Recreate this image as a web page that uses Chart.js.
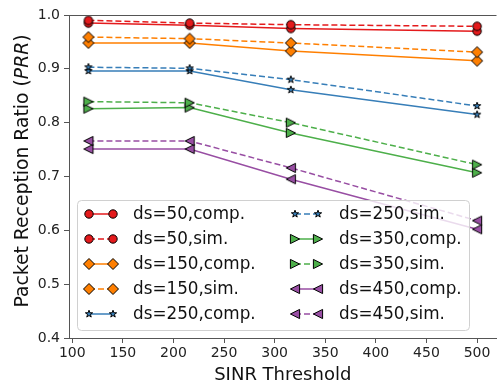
<!DOCTYPE html>
<html>
<head>
<meta charset="utf-8">
<script src="https://cdn.jsdelivr.net/npm/chart.js@4.4.0/dist/chart.umd.min.js"></script>
<style>
  html, body { margin: 0; padding: 0; background: #fff; }
  #wrap { width: 503px; height: 385px; }
</style>
</head>
<body>
<div id="wrap"><canvas id="prrChart" width="503" height="385"></canvas></div>
<script>
// datos
var sinrThreshold = [116, 216, 316, 500];
var prrDs50Comp  = [0.985, 0.981, 0.975, 0.970];
var prrDs50Sim   = [0.990, 0.985, 0.982, 0.979];
var prrDs150Comp = [0.948, 0.948, 0.933, 0.915];
var prrDs150Sim  = [0.959, 0.956, 0.948, 0.931];
var prrDs250Comp = [0.896, 0.896, 0.861, 0.815];
var prrDs250Sim  = [0.903, 0.901, 0.880, 0.831];
var prrDs350Comp = [0.826, 0.828, 0.781, 0.707];
var prrDs350Sim  = [0.839, 0.837, 0.800, 0.722];
var prrDs450Comp = [0.751, 0.751, 0.695, 0.602];
var prrDs450Sim  = [0.766, 0.766, 0.716, 0.618];
var xTickValues = [100, 150, 200, 250, 300, 350, 400, 450, 500];
var yTickValues = [0.4, 0.5, 0.6, 0.7, 0.8, 0.9, 1.0];

var FONT = "'DejaVu Sans', sans-serif";

// dibuja un marcador estilo matplotlib (relleno + borde negro)
function drawMarker(ctx, kind, x, y, color) {
    ctx.save();
    ctx.beginPath();
    if (kind === 'circle') {
        ctx.arc(x, y, 4.2, 0, Math.PI * 2);
    } else if (kind === 'diamond') {
        ctx.moveTo(x, y - 5.5);
        ctx.lineTo(x + 5.5, y);
        ctx.lineTo(x, y + 5.5);
        ctx.lineTo(x - 5.5, y);
        ctx.closePath();
    } else if (kind === 'star') {
        for (var i = 0; i < 10; i++) {
            var r = (i % 2 === 0) ? 3.8 : 1.5;
            var a = -Math.PI / 2 + i * Math.PI / 5;
            var px = x + r * Math.cos(a), py = y + r * Math.sin(a);
            if (i === 0) ctx.moveTo(px, py); else ctx.lineTo(px, py);
        }
        ctx.closePath();
    } else if (kind === 'triRight') {
        ctx.moveTo(x + 4.6, y);
        ctx.lineTo(x - 4.6, y - 4.6);
        ctx.lineTo(x - 4.6, y + 4.6);
        ctx.closePath();
    } else if (kind === 'triLeft') {
        ctx.moveTo(x - 4.6, y);
        ctx.lineTo(x + 4.6, y - 4.6);
        ctx.lineTo(x + 4.6, y + 4.6);
        ctx.closePath();
    }
    ctx.fillStyle = color;
    ctx.fill();
    ctx.lineWidth = 1;
    ctx.strokeStyle = '#000';
    ctx.stroke();
    ctx.restore();
}

function markerImage(kind, color) {
    var c = document.createElement('canvas');
    c.width = 16;
    c.height = 16;
    drawMarker(c.getContext('2d'), kind, 8, 8, color);
    return c;
}

var series = [
    { label: 'ds=50,comp.',  values: prrDs50Comp,  color: '#e41a1c', marker: 'circle',   dash: [] },
    { label: 'ds=50,sim.',   values: prrDs50Sim,   color: '#e41a1c', marker: 'circle',   dash: [6, 3] },
    { label: 'ds=150,comp.', values: prrDs150Comp, color: '#ff7f00', marker: 'diamond',  dash: [] },
    { label: 'ds=150,sim.',  values: prrDs150Sim,  color: '#ff7f00', marker: 'diamond',  dash: [6, 3] },
    { label: 'ds=250,comp.', values: prrDs250Comp, color: '#377eb8', marker: 'star',     dash: [] },
    { label: 'ds=250,sim.',  values: prrDs250Sim,  color: '#377eb8', marker: 'star',     dash: [6, 3] },
    { label: 'ds=350,comp.', values: prrDs350Comp, color: '#4daf4a', marker: 'triRight', dash: [] },
    { label: 'ds=350,sim.',  values: prrDs350Sim,  color: '#4daf4a', marker: 'triRight', dash: [6, 3] },
    { label: 'ds=450,comp.', values: prrDs450Comp, color: '#984ea3', marker: 'triLeft',  dash: [] },
    { label: 'ds=450,sim.',  values: prrDs450Sim,  color: '#984ea3', marker: 'triLeft',  dash: [6, 3] }
];

var datasets = series.map(function (s, i) {
    return {
        label: s.label,
        data: sinrThreshold.map(function (x, j) { return { x: x, y: s.values[j] }; }),
        borderColor: s.color,
        backgroundColor: s.color,
        borderWidth: 1.5,
        borderDash: s.dash,
        tension: 0,
        pointStyle: markerImage(s.marker, s.color),
        pointRadius: 5,
        order: 20 - i
    };
});

// ejes extra, titulos y leyenda dibujados a mano
var extrasPlugin = {
    id: 'extras',
    afterDraw: function (chart) {
        var ctx = chart.ctx;
        var area = chart.chartArea;

        // spine superior
        ctx.save();
        ctx.strokeStyle = '#555';
        ctx.lineWidth = 1;
        ctx.beginPath();
        ctx.moveTo(area.left, area.top + 0.5);
        ctx.lineTo(area.right, area.top + 0.5);
        ctx.stroke();
        ctx.restore();

        // titulo eje x
        ctx.save();
        ctx.fillStyle = '#111';
        ctx.font = '18px ' + FONT;
        ctx.textAlign = 'center';
        ctx.textBaseline = 'alphabetic';
        ctx.fillText('SINR Threshold', (area.left + area.right) / 2, 380);
        ctx.restore();

        // titulo eje y con PRR en cursiva
        ctx.save();
        ctx.translate(28, 171);
        ctx.rotate(-Math.PI / 2);
        ctx.fillStyle = '#111';
        ctx.textBaseline = 'alphabetic';
        var parts = [
            { t: 'Packet Reception Ratio (', f: '18.8px ' + FONT },
            { t: 'PRR', f: 'italic 18.8px ' + FONT },
            { t: ')', f: '18.8px ' + FONT }
        ];
        var total = 0;
        parts.forEach(function (p) { ctx.font = p.f; total += ctx.measureText(p.t).width; });
        var cx = -total / 2;
        parts.forEach(function (p) {
            ctx.font = p.f;
            ctx.fillText(p.t, cx, 0);
            cx += ctx.measureText(p.t).width;
        });
        ctx.restore();

        // leyenda
        ctx.save();
        var bx = 77.5, by = 200.5, bw = 392, bh = 130, rr = 4;
        ctx.beginPath();
        ctx.moveTo(bx + rr, by);
        ctx.lineTo(bx + bw - rr, by);
        ctx.arcTo(bx + bw, by, bx + bw, by + rr, rr);
        ctx.lineTo(bx + bw, by + bh - rr);
        ctx.arcTo(bx + bw, by + bh, bx + bw - rr, by + bh, rr);
        ctx.lineTo(bx + rr, by + bh);
        ctx.arcTo(bx, by + bh, bx, by + bh - rr, rr);
        ctx.lineTo(bx, by + rr);
        ctx.arcTo(bx, by, bx + rr, by, rr);
        ctx.closePath();
        ctx.fillStyle = 'rgba(255,255,255,0.8)';
        ctx.fill();
        ctx.strokeStyle = '#d0d0d0';
        ctx.lineWidth = 1;
        ctx.stroke();

        var cols = [{ h0: 89, h1: 113, tx: 133 }, { h0: 295, h1: 318, tx: 339 }];
        var rows = [214, 239, 264, 289, 314];
        series.forEach(function (s, i) {
            var col = cols[Math.floor(i / 5)];
            var y = rows[i % 5];
            ctx.save();
            ctx.strokeStyle = s.color;
            ctx.lineWidth = 1.5;
            ctx.setLineDash(s.dash);
            ctx.beginPath();
            ctx.moveTo(col.h0, y);
            ctx.lineTo(col.h1, y);
            ctx.stroke();
            ctx.restore();
            drawMarker(ctx, s.marker, col.h0, y, s.color);
            drawMarker(ctx, s.marker, col.h1, y, s.color);
            ctx.fillStyle = '#111';
            ctx.font = '16.8px ' + FONT;
            ctx.textAlign = 'left';
            ctx.textBaseline = 'middle';
            ctx.fillText(s.label, col.tx, y + 1);
        });
        ctx.restore();
    }
};

var ctx = document.getElementById('prrChart').getContext('2d');
var prrChart = new Chart(ctx, {
    type: 'line',
    data: { datasets: datasets },
    options: {
        responsive: false,
        animation: false,
        events: [],
        layout: { padding: { top: 15, left: 0, right: 0, bottom: 0 } },
        plugins: {
            legend: { display: false },
            tooltip: { enabled: false }
        },
        scales: {
            x: {
                type: 'linear',
                min: 96.8,
                max: 519.2,
                afterBuildTicks: function (scale) {
                    scale.ticks = xTickValues.map(function (v) { return { value: v }; });
                },
                afterFit: function (scale) { scale.height = 47; },
                ticks: {
                    font: { family: FONT, size: 14 },
                    color: '#222',
                    padding: 2,
                    maxRotation: 0,
                    autoSkip: false,
                    callback: function (v) { return String(v); }
                },
                grid: { drawOnChartArea: false, drawTicks: true, tickLength: 5, color: '#555' },
                border: { display: true, color: '#555', width: 1 }
            },
            y: {
                type: 'linear',
                min: 0.4,
                max: 1.0,
                afterBuildTicks: function (scale) {
                    scale.ticks = yTickValues.map(function (v) { return { value: v }; });
                },
                afterFit: function (scale) { scale.width = 69; },
                ticks: {
                    font: { family: FONT, size: 14 },
                    color: '#222',
                    padding: 4,
                    autoSkip: false,
                    callback: function (v) { return v.toFixed(1); }
                },
                grid: { drawOnChartArea: false, drawTicks: true, tickLength: 5, color: '#555' },
                border: { display: true, color: '#555', width: 1 }
            }
        }
    },
    plugins: [extrasPlugin]
});
</script>
</body>
</html>
